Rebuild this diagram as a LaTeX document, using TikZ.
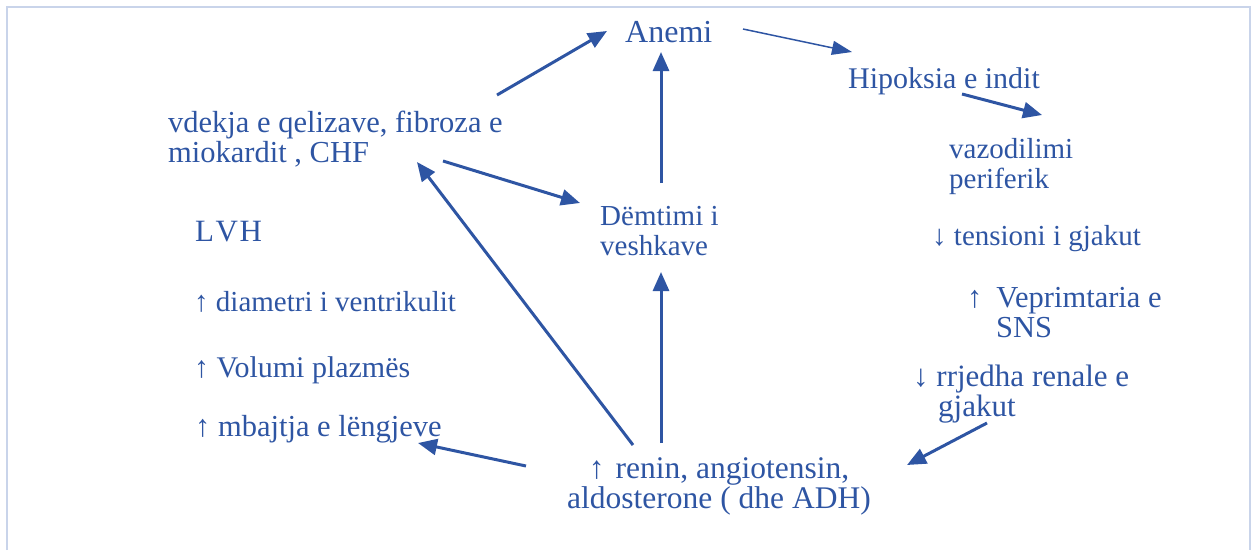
\documentclass[tikz,border=0pt]{standalone}
\usepackage{fontspec}
\setmainfont{Liberation Serif}
\usetikzlibrary{arrows.meta,calc}
\definecolor{ink}{HTML}{2E55A3}
\definecolor{frameblue}{HTML}{C9D4EA}
\begin{document}
\begin{tikzpicture}[x=1pt,y=-1pt,
  lbl/.style={inner sep=0pt, text=ink, align=left, anchor=base west,
    font=\fontsize{29}{30}\selectfont},
  sized/.style={font=\fontsize{#1}{30}\selectfont},
  link/.style={draw=ink, line width=3pt, -{Triangle[length=19pt,width=16pt]}},
  thinlink/.style={draw=ink, line width=1.5pt, -{Triangle[length=20pt,width=14pt]}}]
\useasboundingbox (0,0) rectangle (1260,550);
% open frame around the cycle
\draw[frameblue, line width=2pt] (7,550) -- (7,7) -- (1250,7) -- (1250,550);

% labels (multi-line labels sit on the baseline of their last line)
\node[lbl, sized=32] (anemi) at (625,42) {Anemi};
\node[lbl, sized=30] (hip) at (848,88) {Hipoksia e indit};
\node[lbl, sized=30.5] (vdekja) at (168,162) {vdekja e qelizave, fibroza e\\miokardit , CHF};
\node[lbl] (vazo) at (949,188) {vazodilimi\\periferik};
\node[lbl] (demtimi) at (600,255) {Dëmtimi i\\veshkave};
\node[lbl, sized=31] (lvh) at (195,241) {L\kern1.5pt V\kern1.5pt H};
\node[lbl] (tension) at (932,245) {↓ tensioni i gjakut};
\node[lbl, sized=30.5] (sns) at (967,337) {↑\hspace{14pt}Veprimtaria e\\\hspace{29pt}SNS};
\node[lbl] (diam) at (194,311) {↑ diametri i ventrikulit};
\node[lbl, sized=30] (vol) at (194,377) {↑ Volumi plazmës};
\node[lbl, sized=31] (rrjedha) at (913,416) {↓ rrjedha renale e\\\hspace{25pt}gjakut};
\node[lbl, sized=30.5] (mbajtja) at (195,436) {↑ mbajtja e lëngjeve};
\node[lbl, sized=31.5, align=center, anchor=base] (renin) at (719,508)
  {↑\hspace{11pt}renin, angiotensin,\\aldosterone ( dhe ADH)};

% connectors
\draw[link] ($(vdekja.base west)+(329,-67)$) -- ($(anemi.base west)+(-18,-11)$);
\draw[thinlink] ($(anemi.base west)+(118,-13)$) -- ($(hip.base west)+(4,-36)$);
\draw[link] ($(hip.base west)+(114,6)$) -- ($(vazo.base west)+(93,-73)$);
\draw[link] ($(vdekja.base west)+(275,-1)$) -- ($(demtimi.base west)+(-20,-52)$);
\draw[link] ($(demtimi.base west)+(61,-72)$) -- ($(anemi.base west)+(36,10)$);
\draw[link] ($(renin.base)+(-58,-65)$) -- ($(demtimi.base west)+(61,17)$);
\draw[link] ($(renin.base)+(-86,-63)$) -- ($(vdekja.base west)+(249,0)$);
\draw[link] ($(renin.base)+(-193,-42)$) -- ($(mbajtja.base west)+(223,7)$);
\draw[link] ($(rrjedha.base west)+(74,7)$) -- ($(renin.base)+(188,-43)$);
\end{tikzpicture}
\end{document}
